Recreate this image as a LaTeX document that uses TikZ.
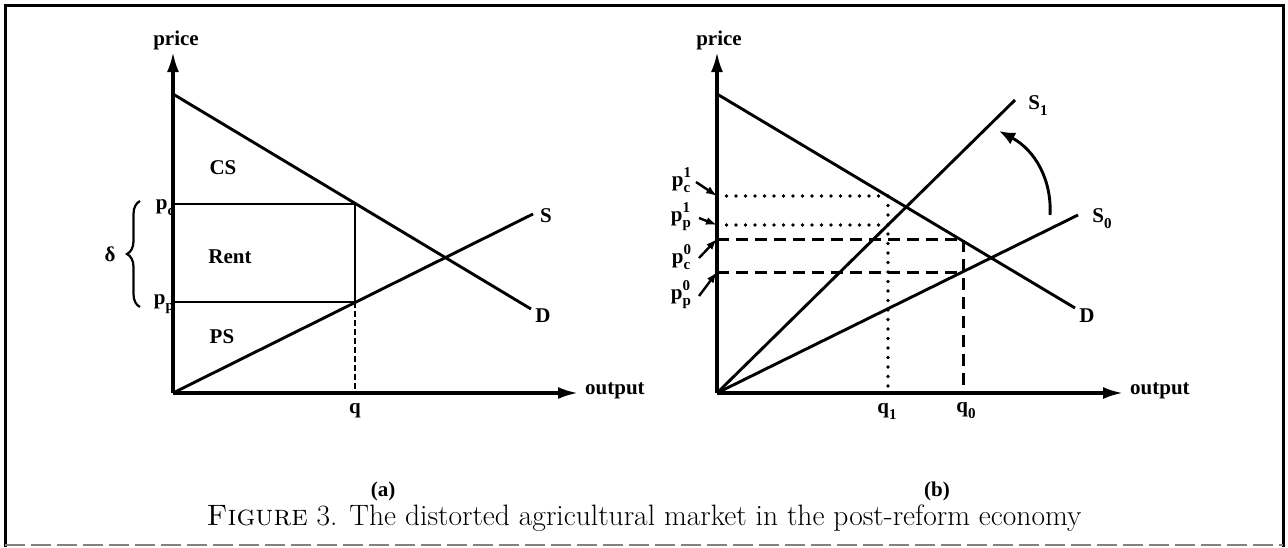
\documentclass[tikz,border=0pt]{standalone}
\usepackage{fontspec}
\newfontfamily\tms{Liberation Serif}
\usetikzlibrary{arrows.meta,decorations.pathreplacing}
\newcommand{\smf}{\fontsize{15}{15}\selectfont}
\newcommand{\plab}[2]{p\rlap{\raisebox{9pt}{\smf #2}}\raisebox{-6pt}{\smf #1}}
\newcommand{\sublab}[2]{#1\raisebox{-6pt}{\smf #2}}
\begin{document}
\begin{tikzpicture}[x=1pt,y=-1pt,
  ln/.style={line width=2.9pt},
  ax/.style={line width=3.2pt,-{Latex[length=20pt,width=12pt]}},
  lbl/.style={font=\tms\fontsize{21}{24}\selectfont\bfseries, inner sep=0pt},
  dotl/.style={line width=3.6pt,dash pattern=on 0pt off 9.5pt,line cap=round},
  dashl/.style={line width=3pt,dash pattern=on 12pt off 7pt},
  fdash/.style={line width=2.4pt,dash pattern=on 6pt off 3pt},
  parr/.style={line width=2.4pt,-{Latex[length=11pt,width=8pt]}}]
\useasboundingbox (0,0) rectangle (1288,547);
% frame
\draw[line width=3pt] (5,547) -- (5,5) -- (1283,5) -- (1283,547);
\draw[gray, line width=1.5pt, dash pattern=on 20pt off 6pt] (5,545) -- (1283,545);

% ---------- panel (a) ----------
\coordinate (O1) at (173,393);
\coordinate (Y1) at (173,52);
\coordinate (X1) at (578,393);
\draw[ax] (O1) -- (Y1);
\draw[ax] (O1) -- (X1);
\node[lbl] (price1) at (176,40) {price};
\node[lbl, anchor=west] (out1) at (585,391) {output};
\coordinate (Dt1) at (173,94);
\coordinate (De1) at (531,309);
\draw[ln] (Dt1) -- (De1);
\node[lbl] (Dl1) at (543,316) {D};
\coordinate (Se1) at (533,214);
\draw[ln] (O1) -- (Se1);
\node[lbl] (Sl1) at (546,216) {S};
\coordinate (pc1) at (173,204);
\coordinate (pp1) at (173,302);
\coordinate (A1) at (355,204);
\coordinate (B1) at (355,302);
\coordinate (q1) at (355,393);
\draw[ln] (pc1) -- (A1) -- (B1) -- (pp1);
\draw[fdash] (B1) -- (q1);
\node[lbl] (CS) at (223,168) {CS};
\node[lbl] (Rent) at (230,257) {Rent};
\node[lbl] (PS) at (222,337) {PS};
\node[lbl] (pcl) at (165,208) {\sublab{p}{c}};
\node[lbl] (ppl) at (164,304) {\sublab{p}{p}};
\coordinate (Bb) at (140,307);
\coordinate (Bt) at (140,201);
\draw[line width=2.2pt, decorate, decoration={brace, amplitude=13pt}] (Bb) -- (Bt);
\node[lbl] (delta) at (110,254) {δ};
\node[lbl] (ql) at (355,411) {q};
\node[lbl] (capa) at (383,491) {(a)};

% ---------- panel (b) ----------
\coordinate (O2) at (717,393);
\coordinate (Y2) at (717,52);
\coordinate (X2) at (1123,393);
\draw[ax] (O2) -- (Y2);
\draw[ax] (O2) -- (X2);
\node[lbl] (price2) at (719,40) {price};
\node[lbl, anchor=west] (out2) at (1130,391) {output};
\coordinate (Dt2) at (717,94);
\coordinate (De2) at (1075,308);
\draw[ln] (Dt2) -- (De2);
\node[lbl] (Dl2) at (1087,316) {D};
\coordinate (S0e) at (1078,215);
\draw[ln] (O2) -- (S0e);
\node[lbl] (S0l) at (1102,219) {\sublab{S}{0}};
\coordinate (S1e) at (1015,100);
\draw[ln] (O2) -- (S1e);
\node[lbl] (S1l) at (1038,106) {\sublab{S}{1}};
% curved arrow
\coordinate (ca1) at (1050,215);
\coordinate (ca2) at (999,131);
\draw[line width=2.9pt,-{Latex[length=16pt,width=13pt]}] (ca1) .. controls (1052,180) and (1035,150) .. (ca2);
% dotted (new equilibrium)
\coordinate (pc1b) at (717,196);
\coordinate (pp1b) at (717,225);
\coordinate (E1) at (888,196);
\coordinate (F1) at (888,225);
\coordinate (q1b) at (888,393);
\draw[dotl] (pc1b) -- (E1) -- (q1b);
\draw[dotl] (pp1b) -- (F1);
% dashed (old equilibrium)
\coordinate (pc0b) at (717,239);
\coordinate (pp0b) at (717,272);
\coordinate (E0) at (963,239);
\coordinate (F0) at (963,272);
\coordinate (q0b) at (963,393);
\draw[dashl] (pc0b) -- (E0) -- (q0b);
\draw[dashl] (pp0b) -- (F0);
% price labels with arrows
\node[lbl] (lpc1) at (681,180) {\plab{c}{1}};
\node[lbl] (lpp1) at (681,217) {\plab{p}{1}};
\node[lbl] (lpc0) at (681,257) {\plab{c}{0}};
\node[lbl] (lpp0) at (681,295) {\plab{p}{0}};
\coordinate (a1s) at (696,182);
\coordinate (a2s) at (699,218);
\coordinate (a3s) at (699,258);
\coordinate (a4s) at (699,296);
\draw[parr] (a1s) -- (pc1b);
\draw[parr] (a2s) -- (pp1b);
\draw[parr] (a3s) -- (pc0b);
\draw[parr] (a4s) -- (pp0b);
\node[lbl] (q1l) at (887,411) {\sublab{q}{1}};
\node[lbl] (q0l) at (966,411) {\sublab{q}{0}};
\node[lbl] (capb) at (937,491) {(b)};

% caption
\node[inner sep=0pt, font=\fontsize{29.5}{32}\selectfont] (caption) at (644,518)
  {\textsc{Figure} 3. The distorted agricultural market in the post-reform economy};
\end{tikzpicture}
\end{document}
